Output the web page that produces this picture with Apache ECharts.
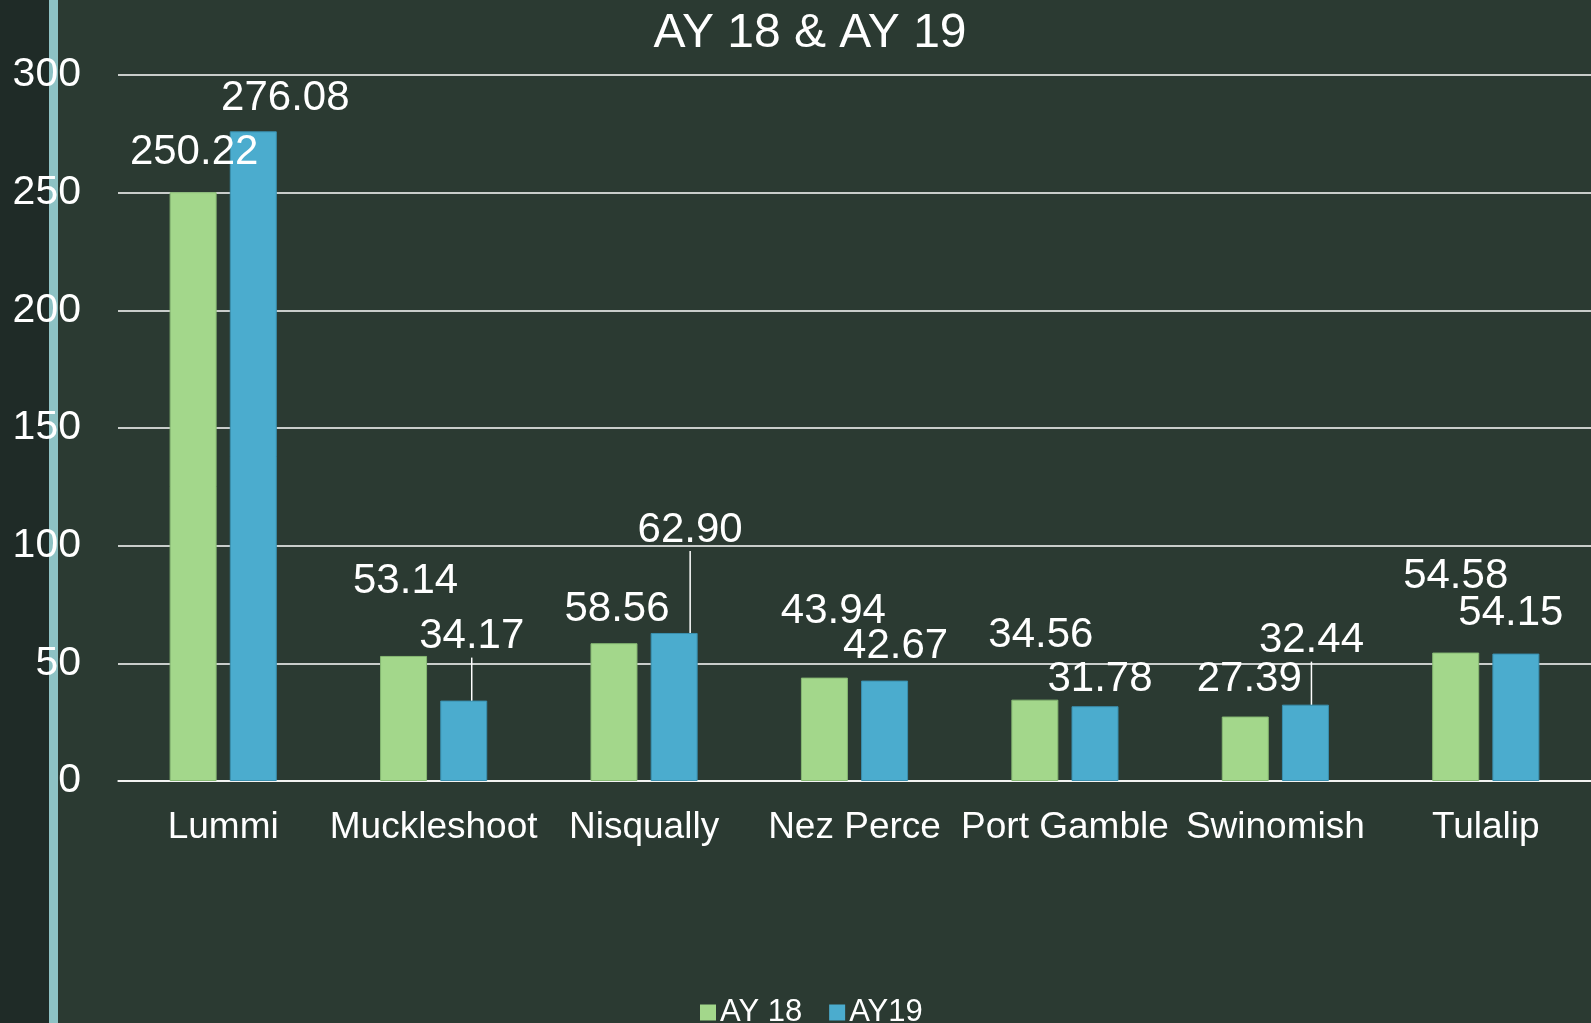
<!DOCTYPE html>
<html>
<head>
<meta charset="utf-8">
<script src="https://cdn.jsdelivr.net/npm/echarts@6/dist/echarts.min.js"></script>
<style>
html,body{margin:0;padding:0;background:#2b3a32;}
#chart{width:1591px;height:1023px;}
</style>
</head>
<body>
<div id="chart"></div>
<script>
const categories = ['Lummi','Muckleshoot','Nisqually','Nez Perce','Port Gamble','Swinomish','Tulalip'];
const ay18 = [250.22, 53.14, 58.56, 43.94, 34.56, 27.39, 54.58];
const ay19 = [276.08, 34.17, 62.90, 42.67, 31.78, 32.44, 54.15];
const yTicks = [0, 50, 100, 150, 200, 250, 300];

// label placement (style): [dx from bar centre, distance of label centre above bar top]
const off18 = [[1,40],[2,75],[3,34],[9,66],[6,64],[4,37],[0,76]];
const off19 = [[32,33],[8,64],[16,103],[11,34],[5,27],[6,64],[-5,40]];
const line19 = [false,true,true,false,false,true,false];

const FONT = '"Liberation Sans", Arial, sans-serif';
const chart = echarts.init(document.getElementById('chart'));

function mkSeries(name, vals, color, border, offs, lines) {
  return {
    name: name,
    type: 'bar',
    barWidth: 47,
    barGap: '28%',
    itemStyle: {color: color, borderColor: border, borderWidth: 1},
    data: vals.map((v, i) => ({value: v, labelLine: {show: lines ? lines[i] : false}})),
    label: {
      show: true,
      position: 'top',
      color: '#ffffff',
      fontSize: 42,
      fontFamily: FONT,
      formatter: p => p.value.toFixed(2)
    },
    labelLine: {show: false, lineStyle: {color: '#ffffff', width: 1.5}},
    labelLayout: function (p) {
      const o = offs[p.dataIndex];
      return {
        x: p.rect.x + p.rect.width / 2 + o[0],
        y: p.rect.y - o[1],
        align: 'center',
        verticalAlign: 'middle'
      };
    }
  };
}

chart.setOption({
  backgroundColor: '#2b3a32',
  animation: false,
  graphic: [
    {type: 'rect', left: 0, top: 0, shape: {width: 49, height: 1023}, style: {fill: '#1f2b27'}, z: -10},
    {type: 'rect', left: 49, top: 0, shape: {width: 9, height: 1023}, style: {fill: '#8dc2c4'}, z: -10}
  ],
  title: {
    text: 'AY 18 & AY 19',
    left: 805,
    top: 5,
    textAlign: 'center',
    textStyle: {color: '#ffffff', fontSize: 48, fontWeight: 'normal', fontFamily: FONT}
  },
  legend: {
    data: ['AY 18', 'AY19'],
    left: 695,
    top: 992,
    itemWidth: 16,
    itemHeight: 16,
    itemGap: 27,
    icon: 'rect',
    itemStyle: {borderWidth: 0},
    textStyle: {color: '#ffffff', fontSize: 31, fontFamily: FONT, padding: [0, 0, 0, -1]}
  },
  grid: {left: 118, right: 0, top: 75, bottom: 242, containLabel: false},
  xAxis: {
    type: 'category',
    data: categories,
    axisLine: {show: true, lineStyle: {color: '#ffffff', width: 1.5}},
    axisTick: {show: false},
    axisLabel: {color: '#ffffff', fontSize: 37, fontFamily: FONT, margin: 28, interval: 0}
  },
  yAxis: {
    type: 'value',
    min: yTicks[0],
    max: yTicks[yTicks.length - 1],
    interval: 50,
    axisLine: {show: false},
    axisTick: {show: false},
    splitLine: {lineStyle: {color: '#ffffff', width: 1.5}},
    axisLabel: {color: '#ffffff', fontSize: 41, fontFamily: FONT, margin: 37}
  },
  series: [
    mkSeries('AY 18', ay18, '#a3d78b', '#86b873', off18, null),
    mkSeries('AY19', ay19, '#4bacce', '#3a8fae', off19, line19)
  ]
});
</script>
</body>
</html>
